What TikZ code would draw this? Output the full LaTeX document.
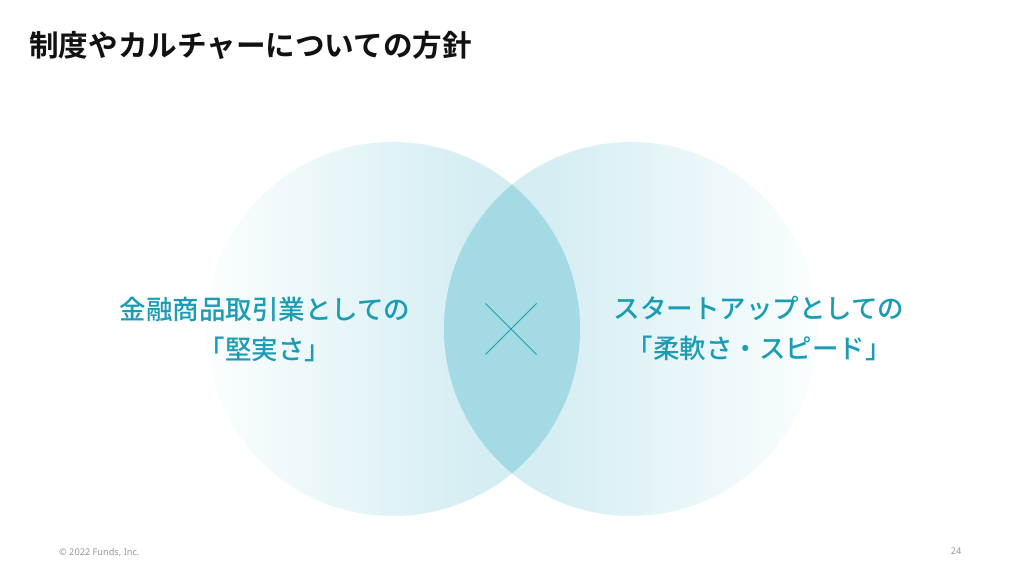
\documentclass[tikz,border=0pt]{standalone}
\usepackage{fontspec}
\newfontfamily\jp{Noto Sans CJK JP Medium}
\newfontfamily\jpb{Noto Sans CJK JP Bold}
\newfontfamily\foot{Noto Sans}
\definecolor{teal1}{RGB}{26,156,180}
\definecolor{circ}{RGB}{214,238,243}
\definecolor{circdeep}{RGB}{206,234,240}
\definecolor{faint}{RGB}{251,254,254}
\definecolor{lens}{RGB}{164,218,227}
\definecolor{footgray}{RGB}{150,150,150}
\pgfdeclarehorizontalshading{fadeR}{100bp}{color(0bp)=(faint); color(25bp)=(faint); color(60bp)=(circ); color(75bp)=(circdeep); color(100bp)=(circdeep)}
\pgfdeclarehorizontalshading{fadeL}{100bp}{color(0bp)=(circdeep); color(25bp)=(circdeep); color(40bp)=(circ); color(75bp)=(faint); color(100bp)=(faint)}
\begin{document}
\begin{tikzpicture}[x=1pt,y=-1pt,
  lbl/.style={font=\jp\fontsize{26.5}{40}\selectfont, text=teal1, align=center, inner sep=0pt},
  ftxt/.style={font=\foot\fontsize{9.2}{11}\selectfont, text=footgray, inner sep=0pt}]
\useasboundingbox (0,0) rectangle (1024,576);
\fill[white] (0,0) rectangle (1024,576);
% circles
\shade[shading=fadeR] (393,329) circle (187);
\shade[shading=fadeL] (631,329) circle (187);
\begin{scope}
  \clip (393,329) circle (187);
  \fill[lens] (631,329) circle (187);
\end{scope}
% cross
\coordinate (xc) at (511,329);
\draw[teal1, line width=1pt] (485.5,303.5) -- (536.5,354.5);
\draw[teal1, line width=1pt] (536.5,303.5) -- (485.5,354.5);
% title
\node[anchor=west, inner sep=0pt, font=\jpb\fontsize{29.6}{32}\selectfont, text={rgb,255:red,17;green,17;blue,17}] (title) at (29,45) {制度やカルチャーについての方針};
% labels
\node[lbl] (left) at (265,329) {金融商品取引業としての\\「堅実さ」};
\node[lbl] (right) at (759,329) {スタートアップとしての\\「柔軟さ・スピード」};
% footer
\node[ftxt, anchor=west] (copy) at (59,553) {© 2022 Funds, Inc.};
\node[ftxt, anchor=center] (page) at (956,551) {24};
\end{tikzpicture}
\end{document}
